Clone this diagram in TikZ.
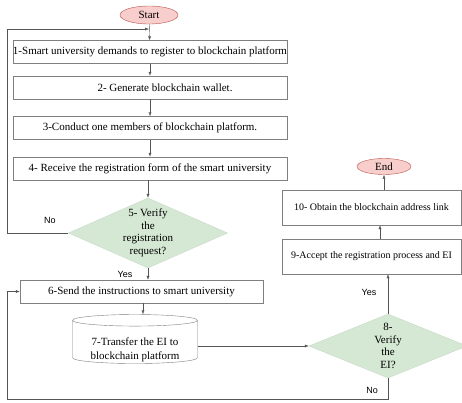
\documentclass[tikz,border=0pt]{standalone}
\usepackage{fontspec}
\setmainfont{Liberation Serif}
\newfontfamily\yesnofont{Liberation Sans}
\usetikzlibrary{shapes}
\usetikzlibrary{arrows.meta}
\definecolor{termfill}{HTML}{F8CECC}
\definecolor{termdraw}{HTML}{B85450}
\definecolor{decfill}{HTML}{D5E8D4}
\definecolor{boxdraw}{HTML}{7F7F7F}
\definecolor{flowline}{HTML}{555555}

\begin{document}
\begin{tikzpicture}[x=1pt, y=-1pt, font=\fontsize{11}{12.5}\selectfont,
    term/.style={ellipse, draw=termdraw, fill=termfill, inner sep=0pt},
    stepbox/.style={rectangle, draw=boxdraw, inner sep=0pt, minimum height=23pt},
    sidebox/.style={stepbox, minimum width=179pt, minimum height=35pt, font=\fontsize{10}{12}\selectfont},
    decision/.style={diamond, fill=decfill, draw=decfill!85!gray, inner sep=-2pt, align=center},
    store/.style={cylinder, shape border rotate=90, draw=boxdraw, fill=white, inner sep=0pt},
    flow/.style={draw=flowline, -{Latex[length=4pt,width=3pt]}},
    yesno/.style={font=\yesnofont\fontsize{9}{10}\selectfont}]
  \useasboundingbox (0,0) rectangle (462,402);

  \node[term, minimum width=58pt, minimum height=18pt] (start) at (149,15) {Start};
  \node[stepbox, minimum width=274pt] (b1) at (150,52) {1-Smart university demands to register to blockchain platform};
  \node[stepbox, minimum width=274pt] (b2) at (150,87.5) {\hspace*{30pt}2- Generate blockchain wallet.};
  \node[stepbox, minimum width=274pt] (b3) at (150,128) {3-Conduct one members of blockchain platform.};
  \node[stepbox, minimum width=274pt] (b4) at (150,168.5) {4- Receive the registration form of the smart university};
  \node[decision, minimum width=159pt, minimum height=70pt, aspect=2.27] (d5) at (148,233)
    {5- Verify\\the\\registration\\request?};
  \node[stepbox, minimum width=243pt] (b6) at (141.5,291.5) {6-Send the instructions to smart university};
  \node[store, minimum width=125pt, minimum height=49pt, aspect=0.13] (cyl) at (135,342)
    {\raisebox{-11pt}[0pt][0pt]{\begin{tabular}{@{}c@{}}7-Transfer the EI to\\[1.5pt]blockchain platform\end{tabular}}};
  \node[decision, minimum width=158pt, minimum height=64pt, aspect=2.47] (d8) at (388,346)
    {8-\\Verify\\the\\EI?};
  \node[sidebox] (b9) at (371.5,256.5) {9-Accept the registration process and EI};
  \node[sidebox] (b10) at (371.5,207.5) {10- Obtain the blockchain address link};
  \node[term, minimum width=54pt, minimum height=16pt] (endn) at (384,166.5) {End};

  \node[yesno] (no5) at (50,220) {No};
  \node[yesno] (yes5) at (125,274) {Yes};
  \node[yesno] (yes8) at (369,292) {Yes};
  \node[yesno] (no8) at (372,390) {No};

  \coordinate (leftup) at (7,29);
  \coordinate (leftdown) at (7,399);

  \draw[flow] (start) -- (b1);
  \draw[flow] (b1) -- (b2);
  \draw[flow] (b2) -- (b3);
  \draw[flow] (b3) -- (b4);
  \draw[flow] (b4.south -| d5.north) -- (d5.north);
  \draw[flow] (d5.west) -| (leftup) -- (start.south |- leftup);
  \draw[flow] (d5.south) -- (d5.south |- b6.north);
  \draw[flow] (b6.south -| 143,0) -- (cyl.north -| 143,0);
  \draw[flow] (d8.west -| cyl.east) -- (d8.west);
  \draw[flow] (d8.north) -- (d8.north |- b9.south);
  \draw[flow] (d8.south) |- (leftdown) |- (b6.west);
  \draw[flow] ([xshift=8.5pt]b9.north) -- ([xshift=8.5pt]b10.south);
  \draw[flow] (b10.north -| endn.south) -- (endn.south);
\end{tikzpicture}
\end{document}
